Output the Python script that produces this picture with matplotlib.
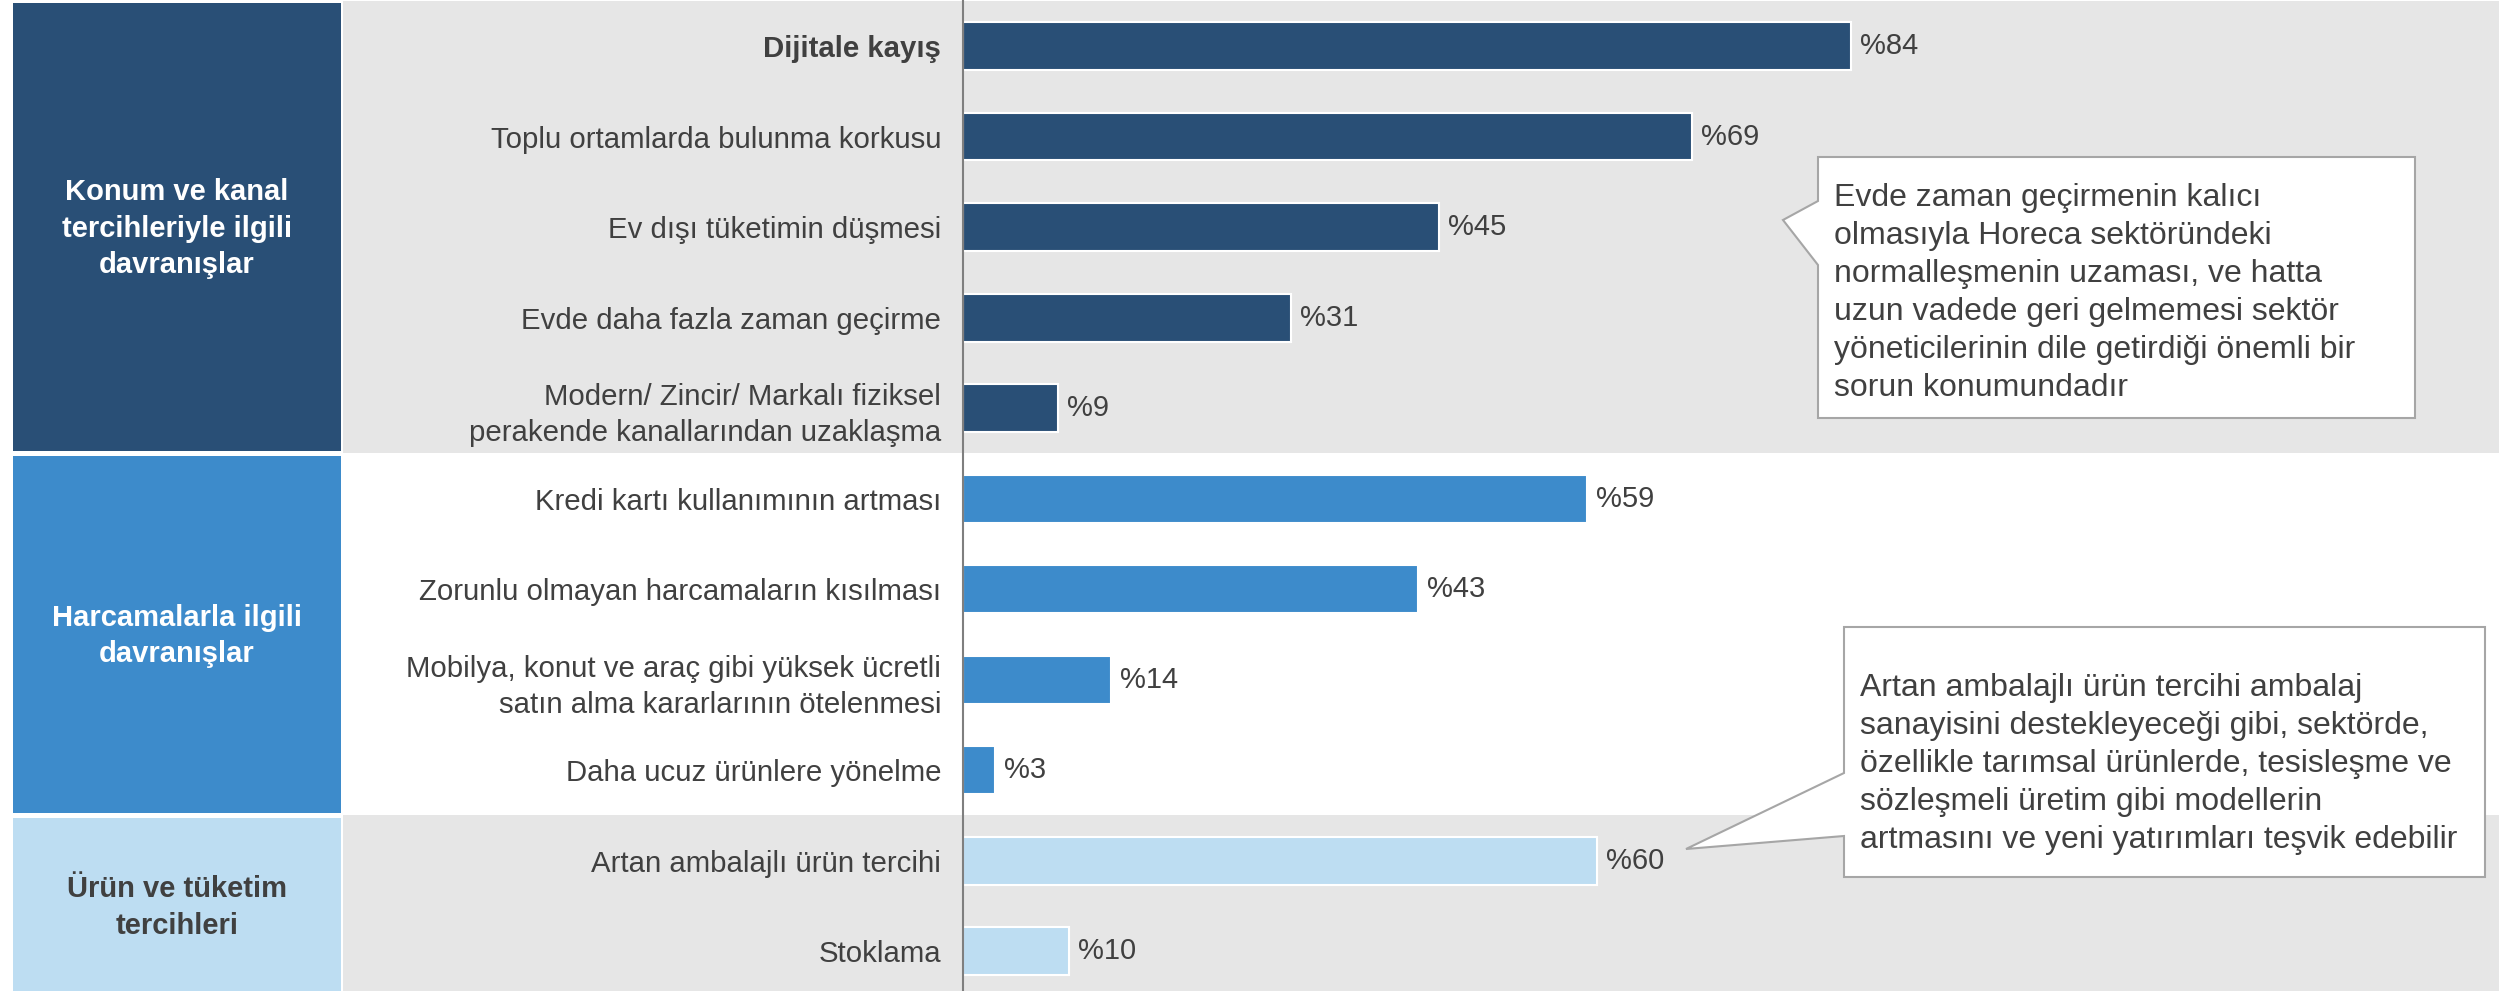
import matplotlib.pyplot as plt
import numpy as np
from matplotlib.patches import Polygon

plt.rcParams['font.family'] = ['Liberation Sans', 'DejaVu Sans']

# data
labels = ['Dijitale kayış',
          'Toplu ortamlarda bulunma korkusu',
          'Ev dışı tüketimin düşmesi',
          'Evde daha fazla zaman geçirme',
          'Modern/ Zincir/ Markalı fiziksel\nperakende kanallarından uzaklaşma',
          'Kredi kartı kullanımının artması',
          'Zorunlu olmayan harcamaların kısılması',
          'Mobilya, konut ve araç gibi yüksek ücretli\nsatın alma kararlarının ötelenmesi',
          'Daha ucuz ürünlere yönelme',
          'Artan ambalajlı ürün tercihi',
          'Stoklama']
values = [84, 69, 45, 31, 9, 59, 43, 14, 3, 60, 10]

groups = ['Konum ve kanal\ntercihleriyle ilgili\ndavranışlar',
          'Harcamalarla ilgili\ndavranışlar',
          'Ürün ve tüketim\ntercihleri']
group_sizes = [5, 4, 2]
group_colors = ['#294F76', '#3D8BCB', '#BDDDF2']
group_text = ['white', 'white', '#404040']
band_colors = ['#E6E6E6', 'white', '#E6E6E6']

note1 = ('Evde zaman geçirmenin kalıcı\nolmasıyla Horeca sektöründeki\n'
         'normalleşmenin uzaması, ve hatta\nuzun vadede geri gelmemesi sektör\n'
         'yöneticilerinin dile getirdiği önemli bir\nsorun konumundadır')
note2 = ('Artan ambalajlı ürün tercihi ambalaj\nsanayisini destekleyeceği gibi, sektörde,\n'
         'özellikle tarımsal ürünlerde, tesisleşme ve\nsözleşmeli üretim gibi modellerin\n'
         'artmasını ve yeni yatırımları teşvik edebilir')

W, H = 2499, 991
txt = '#404040'
fig = plt.figure(figsize=(W / 100, H / 100), dpi=100)

# background: row bands + group boxes (x in pixels, y in rows)
bg = fig.add_axes([0, 0, 1, 1])
bg.set_xlim(0, W)
bg.set_ylim(10.44, -0.508)
bg.axis('off')

bounds = np.cumsum([0] + group_sizes) - 0.5
for i in range(len(groups)):
    lo, hi = bounds[i], bounds[i + 1]
    bg.axhspan(lo, hi, xmin=343 / W, xmax=1, color=band_colors[i], lw=0)
    bg.axhspan(lo + 0.025, hi - 0.025, xmin=13 / W, xmax=341 / W, color=group_colors[i], lw=0)
    bg.text(177, (lo + hi) / 2 + 0.02, groups[i], ha='center', va='center', color=group_text[i],
            fontsize=21, fontweight='bold', linespacing=1.39)

# bars
x0 = 963
ax = fig.add_axes([x0 / W, 0, 1 - x0 / W, 1], sharey=bg)
ax.patch.set_visible(False)
ax.set_xlim(0, (W - x0) / 10.57)

y = np.arange(len(values))
colors = np.repeat(group_colors, group_sizes)
bars = ax.barh(y, values, height=0.53, color=colors, edgecolor='white', linewidth=1.5)
ax.bar_label(bars, labels=['%' + str(v) for v in values], padding=6.5, fontsize=21, color=txt)

ax.set_yticks(y, labels)
ax.tick_params(axis='y', length=0, pad=15.8, labelsize=21.2, labelcolor=txt)
for t in ax.get_yticklabels():
    t.set_linespacing(1.36)
ax.get_yticklabels()[0].set_fontweight('bold')
ax.set_xticks([])
for s in ['top', 'right', 'bottom']:
    ax.spines[s].set_visible(False)
ax.spines['left'].set_color('#7F7F7F')
ax.spines['left'].set_linewidth(1.5)

# callouts (pixel coordinates)
ov = fig.add_axes([0, 0, 1, 1])
ov.set_xlim(0, W)
ov.set_ylim(H, 0)
ov.axis('off')


def callout(box, base, tip, text, tx, ty):
    l, t, r, b = box
    pts = [(l, t), (r, t), (r, b), (l, b), (l, base[1]), tip, (l, base[0])]
    ov.add_patch(Polygon(pts, closed=True, fc='white', ec='#A6A6A6', lw=1.5))
    ov.text(tx, ty, text, ha='left', va='top', fontsize=23, color=txt, linespacing=1.35)


callout((1818, 157, 2415, 418), (201, 265), (1783, 220), note1, 1834, 183)
callout((1844, 627, 2485, 877), (773, 836), (1686, 849), note2, 1860, 673)

fig.savefig('out.png', dpi=100)
